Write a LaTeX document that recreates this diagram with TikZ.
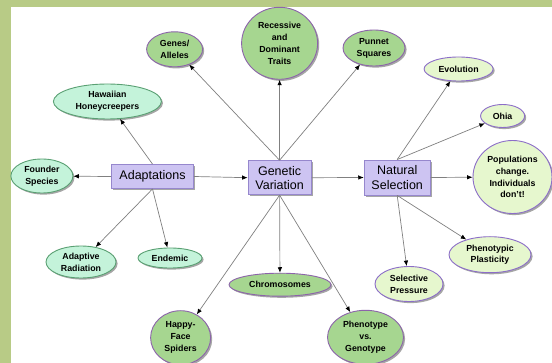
\documentclass[tikz,border=0pt]{standalone}
\usepackage{fontspec}
\setmainfont{Liberation Sans}
\usetikzlibrary{shapes.geometric,arrows.meta,shadows}
\definecolor{frameC}{RGB}{184,203,134}
\definecolor{boxF}{RGB}{205,196,242}
\definecolor{boxD}{RGB}{150,135,205}
\definecolor{dkF}{RGB}{166,214,144}
\definecolor{dkD}{RGB}{140,100,170}
\definecolor{cyF}{RGB}{196,243,218}
\definecolor{cyD}{RGB}{90,160,115}
\definecolor{ltF}{RGB}{230,247,206}
\definecolor{ltD}{RGB}{140,110,200}
\definecolor{lineC}{RGB}{128,128,128}
\tikzset{
  shad/.style={drop shadow={shadow xshift=1.6pt,shadow yshift=-1.6pt,fill=black,opacity=0.35}},
  mainbox/.style={rectangle,draw=boxD,fill=boxF,line width=0.9pt,shad,inner sep=0pt,align=center,
    font=\fontsize{12.5}{14.3}\selectfont},
  bub/.style={ellipse,line width=0.9pt,shad,inner sep=0pt,align=center,
    font=\bfseries\fontsize{8.8}{11.9}\selectfont},
  dk/.style={bub,draw=dkD,fill=dkF},
  cy/.style={bub,draw=cyD,fill=cyF},
  lt/.style={bub,draw=ltD,fill=ltF},
  conn/.style={draw=lineC,line width=0.7pt,-{Latex[length=5.5pt,width=4.5pt,color=black]}},
}
\begin{document}
\begin{tikzpicture}[x=1pt,y=-1pt]
\useasboundingbox (0,0) rectangle (552,363);
\fill[frameC] (0,0) rectangle (552,363);
\fill[white] (10.5,7.3) rectangle (552,363);

% main boxes
\node[mainbox,minimum width=82pt,minimum height=24pt] (ad) at (152.5,176.5) {Adaptations};
\node[mainbox,minimum width=63pt,minimum height=34pt] (gv) at (279.6,177.7) {Genetic\\Variation};
\node[mainbox,minimum width=66pt,minimum height=35pt] (ns) at (397.2,177.5) {Natural\\Selection};

% adaptations children
\node[cy,minimum width=62pt,minimum height=34pt] (fs) at (41.9,176) {Founder\\Species};
\node[cy,minimum width=108pt,minimum height=35pt] (hh) at (107.4,101.5) {Hawaiian\\Honeycreepers};
\node[cy,minimum width=70pt,minimum height=32pt] (ar) at (81,262) {Adaptive\\Radiation};
\node[cy,minimum width=64pt,minimum height=20pt] (en) at (170,258) {Endemic};

% genetic variation children
\node[dk,minimum width=56pt,minimum height=35pt] (ga) at (174.6,49.3) {Genes/\\Alleles};
\node[dk,minimum width=76pt,minimum height=72pt] (rd) at (279.6,43.3) {Recessive\\and\\Dominant\\Traits};
\node[dk,minimum width=62pt,minimum height=36pt] (ps) at (374,48) {Punnet\\Squares};
\node[dk,minimum width=102pt,minimum height=23pt] (ch) at (280,284.7) {Chromosomes};
\node[dk,minimum width=60pt,minimum height=54pt] (hf) at (180.6,337.7) {Happy-\\Face\\Spiders};
\node[dk,minimum width=76pt,minimum height=54pt] (pg) at (365.5,337.3) {Phenotype\\vs.\\Genotype};

% natural selection children
\node[lt,minimum width=69pt,minimum height=24pt] (ev) at (458.6,69) {Evolution};
\node[lt,minimum width=44pt,minimum height=23pt] (oh) at (502.6,116) {Ohia};
\node[lt,minimum width=79pt,minimum height=73pt] (pc) at (512.5,177) {Populations\\change.\\Individuals\\don't!};
\node[lt,minimum width=82pt,minimum height=36pt] (pp) at (490,254.7) {Phenotypic\\Plasticity};
\node[lt,minimum width=68pt,minimum height=35pt] (sp) at (409,284) {Selective\\Pressure};

% connectors
\draw[conn] (ad.west) -- (fs);
\draw[conn] (ad.north) -- (hh);
\draw[conn] (ad.south) -- (ar);
\draw[conn] (ad.south) -- (en);
\draw[conn] (ad.east) -- (gv.west);

\draw[conn] (gv.north) -- (ga);
\draw[conn] (gv.north) -- (rd);
\draw[conn] (gv.north) -- (ps);
\draw[conn] (gv.south) -- (hf);
\draw[conn] (gv.south) -- (ch);
\draw[conn] (gv.south) -- (pg);
\draw[conn] (gv.east) -- (ns.west);

\draw[conn] (ns.north) -- (ev);
\draw[conn] (ns.north) -- (oh);
\draw[conn] (ns.east) -- (pc);
\draw[conn] (ns.south) -- (sp);
\draw[conn] (ns.south) -- (pp);
\end{tikzpicture}
\end{document}
